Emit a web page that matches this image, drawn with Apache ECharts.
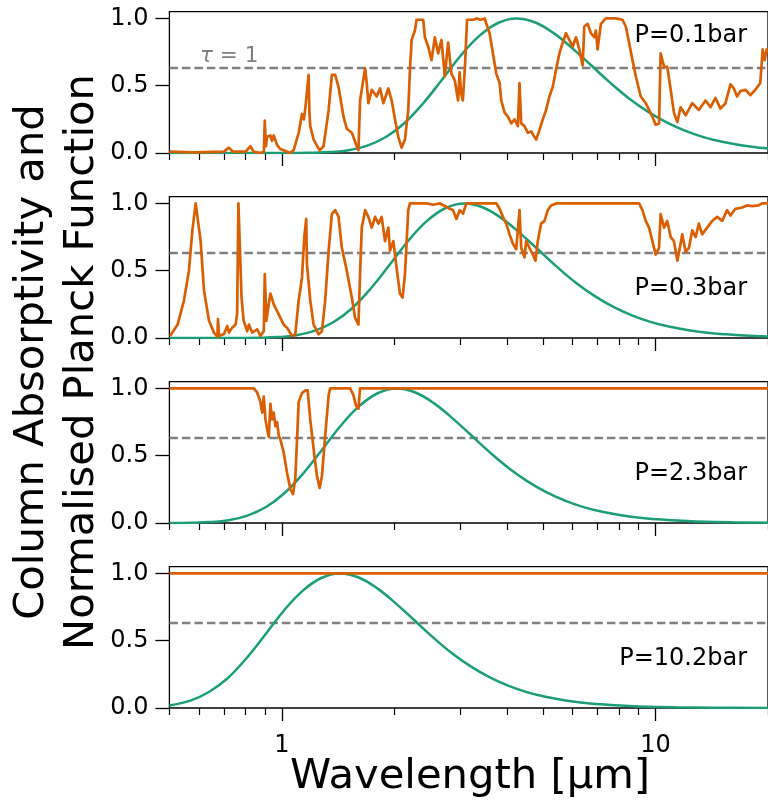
<!DOCTYPE html>
<html>
<head>
<meta charset="utf-8">
<script src="https://cdn.jsdelivr.net/npm/echarts@6/dist/echarts.min.js"></script>
<style>
  html, body { margin: 0; padding: 0; background: #ffffff; }
  #chart { width: 768px; height: 805px; }
</style>
</head>
<body>
<div id="chart"></div>
<script>
// ---- Data: column absorptivity and normalised Planck function vs wavelength [µm] ----

const pressureLabels = ['P=0.1bar', 'P=0.3bar', 'P=2.3bar', 'P=10.2bar'];

// absorptivity level where the column optical depth reaches 1 (1 - 1/e)
const tauLevel = 0.632;

const yTickValues = [0, 0.5, 1.0];
const xMajorTicks = [1, 10];
const xMinorTicks = [0.5, 0.6, 0.7, 0.8, 0.9, 2, 3, 4, 5, 6, 7, 8, 9, 20];

const absorb01 = [
  [0.50, 0.01], [0.58, 0.005], [0.70, 0.01], [0.721, 0.04], [0.74, 0.01], [0.80, 0.01],
  [0.824, 0.05], [0.84, 0.01], [0.876, 0.0], [0.895, 0.01], [0.900, 0.24], [0.906, 0.05],
  [0.913, 0.12], [0.932, 0.13], [0.941, 0.09], [0.951, 0.13], [0.971, 0.06], [0.99, 0.03],
  [1.011, 0.02], [1.05, 0.0], [1.075, 0.02], [1.109, 0.15], [1.132, 0.29], [1.145, 0.25],
  [1.155, 0.33], [1.167, 0.34], [1.179, 0.58], [1.185, 0.30], [1.191, 0.20], [1.216, 0.10],
  [1.262, 0.02], [1.293, 0.05], [1.334, 0.32], [1.361, 0.58], [1.389, 0.58], [1.418, 0.49],
  [1.462, 0.27], [1.492, 0.18], [1.539, 0.15], [1.586, 0.05], [1.603, 0.02], [1.619, 0.39],
  [1.670, 0.63], [1.687, 0.52], [1.704, 0.37], [1.740, 0.47], [1.794, 0.42], [1.831, 0.48],
  [1.869, 0.37], [1.927, 0.48], [1.967, 0.39], [2.008, 0.25], [2.049, 0.12], [2.091, 0.04],
  [2.135, 0.10], [2.179, 0.32], [2.202, 0.62], [2.225, 0.84], [2.270, 0.91], [2.294, 0.99],
  [2.389, 0.99], [2.414, 0.86], [2.464, 0.79], [2.515, 0.69], [2.567, 0.86], [2.620, 0.74],
  [2.674, 0.84], [2.729, 0.57], [2.786, 0.82], [2.843, 0.59], [2.902, 0.54], [2.962, 0.39],
  [2.99, 0.60], [3.02, 0.44], [3.05, 0.39], [3.09, 0.64], [3.13, 0.99], [3.15, 1.0],
  [3.25, 0.99], [3.32, 1.0], [3.40, 0.99], [3.49, 1.0], [3.525, 0.96], [3.597, 0.89],
  [3.672, 0.74], [3.748, 0.59], [3.826, 0.52], [3.865, 0.39], [3.945, 0.30], [4.027, 0.27],
  [4.110, 0.22], [4.195, 0.25], [4.282, 0.20], [4.325, 0.52], [4.370, 0.22], [4.460, 0.20],
  [4.553, 0.15], [4.647, 0.16], [4.743, 0.12], [4.792, 0.10], [4.891, 0.17], [4.992, 0.25],
  [5.096, 0.32], [5.200, 0.42], [5.308, 0.49], [5.418, 0.62], [5.530, 0.74], [5.644, 0.82],
  [5.761, 0.89], [5.880, 0.84], [6.002, 0.79], [6.126, 0.86], [6.252, 0.77], [6.382, 0.65],
  [6.447, 0.94], [6.581, 0.96], [6.717, 0.89], [6.855, 0.86], [6.926, 0.91], [6.997, 0.77],
  [7.142, 0.96], [7.364, 1.0], [7.830, 1.0], [8.157, 0.99], [8.326, 0.94], [8.500, 0.82],
  [8.676, 0.69], [8.856, 0.57], [9.130, 0.42], [9.414, 0.37], [9.609, 0.32], [9.808, 0.27],
  [10.01, 0.21], [10.22, 0.22], [10.32, 0.74], [10.54, 0.64], [10.75, 0.64], [10.98, 0.47],
  [11.20, 0.30], [11.44, 0.23], [11.67, 0.34], [12.04, 0.28], [12.54, 0.37], [13.06, 0.32],
  [13.61, 0.39], [14.04, 0.34], [14.47, 0.41], [14.92, 0.33], [15.39, 0.37], [15.87, 0.51],
  [16.20, 0.48], [16.53, 0.42], [16.87, 0.46], [17.40, 0.47], [17.94, 0.43], [18.50, 0.47],
  [19.07, 0.52], [19.35, 0.77], [19.59, 0.69], [19.83, 0.77], [20.0, 0.75]
];

const absorb03 = [
  [0.502, 0.015], [0.526, 0.10], [0.547, 0.28], [0.564, 0.50], [0.576, 0.80], [0.588, 1.0],
  [0.594, 1.0], [0.606, 0.72], [0.619, 0.35], [0.638, 0.13], [0.658, 0.04], [0.672, 0.01],
  [0.6745, 0.14], [0.679, 0.015], [0.700, 0.03], [0.714, 0.09], [0.722, 0.04], [0.736, 0.077],
  [0.752, 0.10], [0.759, 0.18], [0.765, 1.0], [0.772, 1.0], [0.780, 0.30], [0.790, 0.13],
  [0.8075, 0.05], [0.816, 0.10], [0.8325, 0.04], [0.8586, 0.065], [0.876, 0.015], [0.8945, 0.05],
  [0.900, 0.475], [0.909, 0.127], [0.922, 0.25], [0.932, 0.33], [0.951, 0.25], [0.971, 0.20],
  [0.991, 0.15], [1.011, 0.10], [1.032, 0.077], [1.064, 0.015], [1.086, 0.027], [1.109, 0.28],
  [1.132, 0.45], [1.148, 0.75], [1.162, 0.885], [1.167, 0.55], [1.191, 0.28], [1.216, 0.10],
  [1.254, 0.027], [1.280, 0.05], [1.306, 0.28], [1.334, 0.65], [1.361, 0.92], [1.389, 0.95],
  [1.418, 0.90], [1.447, 0.67], [1.492, 0.50], [1.539, 0.30], [1.570, 0.15], [1.603, 0.10],
  [1.619, 0.475], [1.636, 0.82], [1.670, 0.95], [1.704, 0.90], [1.740, 0.82], [1.776, 0.90],
  [1.813, 0.85], [1.850, 0.90], [1.888, 0.72], [1.927, 0.82], [1.947, 0.65], [1.987, 0.72],
  [2.028, 0.52], [2.070, 0.33], [2.104, 0.30], [2.135, 0.475], [2.179, 0.95], [2.202, 1.0],
  [2.438, 1.0], [2.541, 0.99], [2.647, 1.0], [2.757, 0.975], [2.814, 0.96], [2.872, 0.95],
  [2.932, 0.885], [2.992, 0.95], [3.054, 0.925], [3.117, 1.0], [3.75, 1.0], [3.826, 0.96],
  [3.905, 0.90], [3.985, 0.85], [4.068, 0.77], [4.152, 0.70], [4.238, 0.66], [4.325, 0.95],
  [4.370, 0.67], [4.460, 0.60], [4.506, 0.72], [4.599, 0.67], [4.695, 0.62], [4.772, 0.575],
  [4.841, 0.72], [4.941, 0.85], [5.044, 0.87], [5.148, 0.95], [5.254, 0.985], [5.418, 1.0],
  [9.037, 1.0], [9.225, 0.95], [9.414, 0.87], [9.609, 0.82], [9.808, 0.72], [10.01, 0.62],
  [10.22, 0.67], [10.32, 0.92], [10.54, 0.82], [10.75, 0.87], [10.98, 0.75], [11.20, 0.72],
  [11.44, 0.575], [11.67, 0.70], [11.79, 0.77], [12.04, 0.64], [12.29, 0.67], [12.54, 0.80],
  [12.80, 0.75], [13.06, 0.85], [13.33, 0.77], [13.75, 0.82], [14.18, 0.87], [14.62, 0.90],
  [15.08, 0.87], [15.54, 0.95], [15.87, 0.91], [16.36, 0.96], [17.05, 0.97], [17.58, 0.985],
  [18.13, 0.98], [18.88, 0.985], [19.27, 1.0], [20.0, 1.0]
];

const absorb23 = [
  [0.50, 1.0], [0.841, 1.0], [0.8586, 0.97], [0.876, 0.90], [0.8855, 0.82], [0.8945, 0.94],
  [0.9036, 0.77], [0.913, 0.70], [0.9224, 0.64], [0.932, 0.885], [0.9414, 0.77], [0.951, 0.82],
  [0.9609, 0.72], [0.971, 0.75], [0.9808, 0.65], [0.991, 0.62], [1.011, 0.525], [1.032, 0.375],
  [1.054, 0.25], [1.071, 0.215], [1.086, 0.33], [1.098, 0.62], [1.109, 0.90], [1.132, 0.965],
  [1.155, 0.985], [1.172, 0.985], [1.191, 0.77], [1.216, 0.55], [1.241, 0.35], [1.262, 0.26],
  [1.280, 0.35], [1.306, 0.65], [1.334, 0.95], [1.347, 1.0], [1.523, 1.0], [1.554, 0.95],
  [1.580, 0.87], [1.603, 0.85], [1.619, 1.0], [20.0, 1.0]
];

const absorb102 = [[0.50, 1.0], [20.0, 1.0]];

const planck01 = [
  [0.50, 0.0], [0.848, 0.0], [0.952, 0.0001], [1.067, 0.0004], [1.198, 0.0018], [1.344, 0.0068],
  [1.508, 0.021], [1.692, 0.055], [1.898, 0.119], [2.130, 0.223], [2.390, 0.370], [2.682, 0.544],
  [3.009, 0.723], [3.376, 0.870], [3.788, 0.966], [4.25, 1.0], [4.769, 0.970], [5.350, 0.889],
  [6.003, 0.776], [6.736, 0.650], [7.558, 0.523], [8.480, 0.407], [9.515, 0.309], [10.68, 0.229],
  [11.98, 0.166], [13.44, 0.118], [15.08, 0.083], [16.92, 0.057], [18.98, 0.039], [20.0, 0.034]
];

const planck03 = [
  [0.50, 0.0], [0.614, 0.0], [0.690, 0.0001], [0.774, 0.0004], [0.868, 0.0018], [0.974, 0.0068],
  [1.093, 0.021], [1.226, 0.055], [1.376, 0.119], [1.544, 0.223], [1.732, 0.370], [1.943, 0.544],
  [2.180, 0.723], [2.446, 0.870], [2.745, 0.966], [3.08, 1.0], [3.456, 0.970], [3.877, 0.889],
  [4.351, 0.776], [4.881, 0.650], [5.477, 0.523], [6.145, 0.407], [6.895, 0.309], [7.737, 0.229],
  [8.681, 0.166], [9.740, 0.118], [10.93, 0.083], [12.26, 0.057], [13.76, 0.039], [15.44, 0.027],
  [17.32, 0.018], [20.0, 0.011]
];

const planck23 = [
  [0.50, 0.0003], [0.572, 0.0018], [0.642, 0.0068], [0.720, 0.021], [0.808, 0.055], [0.907, 0.119],
  [1.017, 0.223], [1.142, 0.370], [1.281, 0.544], [1.437, 0.723], [1.613, 0.870], [1.810, 0.966],
  [2.03, 1.0], [2.278, 0.970], [2.556, 0.889], [2.868, 0.776], [3.217, 0.650], [3.610, 0.523],
  [4.050, 0.407], [4.545, 0.309], [5.099, 0.229], [5.722, 0.166], [6.419, 0.118], [7.203, 0.083],
  [8.082, 0.057], [9.068, 0.039], [10.17, 0.027], [11.42, 0.018], [12.81, 0.012], [16.13, 0.005],
  [20.0, 0.002]
];

const planck102 = [
  [0.50, 0.019], [0.569, 0.055], [0.638, 0.119], [0.717, 0.223], [0.804, 0.370], [0.902, 0.544],
  [1.012, 0.723], [1.136, 0.870], [1.274, 0.966], [1.43, 1.0], [1.605, 0.970], [1.800, 0.889],
  [2.020, 0.776], [2.266, 0.650], [2.543, 0.523], [2.853, 0.407], [3.202, 0.309], [3.592, 0.229],
  [4.031, 0.166], [4.522, 0.118], [5.074, 0.083], [5.693, 0.057], [6.388, 0.039], [7.167, 0.027],
  [8.042, 0.018], [9.023, 0.012], [11.36, 0.005], [14.30, 0.002], [20.0, 0.0007]
];

// ---- Layout and styling ----
const FONT = 'DejaVu Sans';
const ORANGE = '#d95f02';
const GREEN = '#1b9e77';
const GRAY = '#808080';

const GRID_LEFT = 169.4;
const GRID_TOP0 = 11.7;
const GRID_STEP = 185;
const GRID_H = 141.3;

const panels = [
  { absorb: absorb01, planck: planck01 },
  { absorb: absorb03, planck: planck03 },
  { absorb: absorb23, planck: planck23 },
  { absorb: absorb102, planck: planck102 }
];

const grids = [], xAxes = [], yAxes = [], series = [], graphics = [];

panels.forEach((p, i) => {
  const top = GRID_TOP0 + i * GRID_STEP;
  const isBottom = i === panels.length - 1;
  grids.push({
    left: GRID_LEFT, right: -2, top: top, height: GRID_H,
    show: true, borderColor: '#000', borderWidth: 1.3, backgroundColor: 'transparent'
  });

  // major ticks (and labels on the bottom panel)
  xAxes.push({
    gridIndex: i, type: 'log', logBase: 10, min: 0.5, max: 20, position: 'bottom',
    axisLine: { show: false, onZero: false }, splitLine: { show: false },
    axisTick: { show: true, length: 13, customValues: xMajorTicks,
                lineStyle: { color: '#000', width: 1.3 } },
    axisLabel: { show: isBottom, customValues: xMajorTicks, margin: 26,
                 fontSize: 24, fontFamily: FONT, color: '#000',
                 formatter: v => String(Math.round(v)) }
  });
  // minor ticks
  xAxes.push({
    gridIndex: i, type: 'log', logBase: 10, min: 0.5, max: 20, position: 'bottom',
    axisLine: { show: false, onZero: false }, splitLine: { show: false },
    axisTick: { show: true, length: 7, customValues: xMinorTicks,
                lineStyle: { color: '#000', width: 1.2 } },
    axisLabel: { show: false }
  });

  yAxes.push({
    gridIndex: i, type: 'value', min: 0, max: 1.05,
    axisLine: { show: false }, splitLine: { show: false },
    axisTick: { show: true, length: 14, customValues: yTickValues,
                lineStyle: { color: '#000', width: 1.3 } },
    axisLabel: { show: true, customValues: yTickValues, margin: 21,
                 fontSize: 24, fontFamily: FONT, color: '#000',
                 formatter: v => v.toFixed(1) }
  });

  const xi = 2 * i;
  series.push({
    type: 'line', xAxisIndex: xi, yAxisIndex: i, z: 1, silent: true,
    data: [[0.5, tauLevel], [20, tauLevel]], symbol: 'none',
    lineStyle: { color: GRAY, width: 2.4, type: [8.5, 4] }
  });
  series.push({
    type: 'line', xAxisIndex: xi, yAxisIndex: i, z: 2, silent: true,
    data: p.planck, symbol: 'none', smooth: 0.4,
    lineStyle: { color: GREEN, width: 2.5 }
  });
  series.push({
    type: 'line', xAxisIndex: xi, yAxisIndex: i, z: 3, silent: true,
    data: p.absorb, symbol: 'none',
    lineStyle: { color: ORANGE, width: 2.7, join: 'round' }
  });

  graphics.push({
    type: 'text', x: 747, y: i === 0 ? top + 24.3 : top + 92.5,
    style: { text: pressureLabels[i], fontSize: 24, fontFamily: FONT, fill: '#000',
             align: 'right', verticalAlign: 'middle' }
  });
});

// τ = 1 marker text in the top panel
graphics.push({
  type: 'text', x: 200, y: GRID_TOP0 + 45,
  style: {
    text: '{t|τ} = 1', fontSize: 21.5, fontFamily: FONT, fill: GRAY,
    align: 'left', verticalAlign: 'middle',
    rich: { t: { fontStyle: 'italic', fontSize: 21.5, fontFamily: FONT, fill: GRAY } }
  }
});

// axis titles
graphics.push({
  type: 'text', x: 470, y: 777,
  style: { text: 'Wavelength [µm]', fontSize: 41.7, fontFamily: FONT, fill: '#000',
           align: 'center', verticalAlign: 'middle' }
});
graphics.push({
  type: 'text', x: 57.5, y: 362, rotation: Math.PI / 2,
  style: { text: 'Column Absorptivity and\nNormalised Planck Function',
           fontSize: 41.7, lineHeight: 50.3, fontFamily: FONT, fill: '#000',
           align: 'center', verticalAlign: 'middle' }
});

const chart = echarts.init(document.getElementById('chart'), null, { renderer: 'canvas' });
chart.setOption({
  animation: false,
  backgroundColor: '#ffffff',
  textStyle: { fontFamily: FONT },
  grid: grids,
  xAxis: xAxes,
  yAxis: yAxes,
  series: series,
  graphic: graphics
});
</script>
</body>
</html>
